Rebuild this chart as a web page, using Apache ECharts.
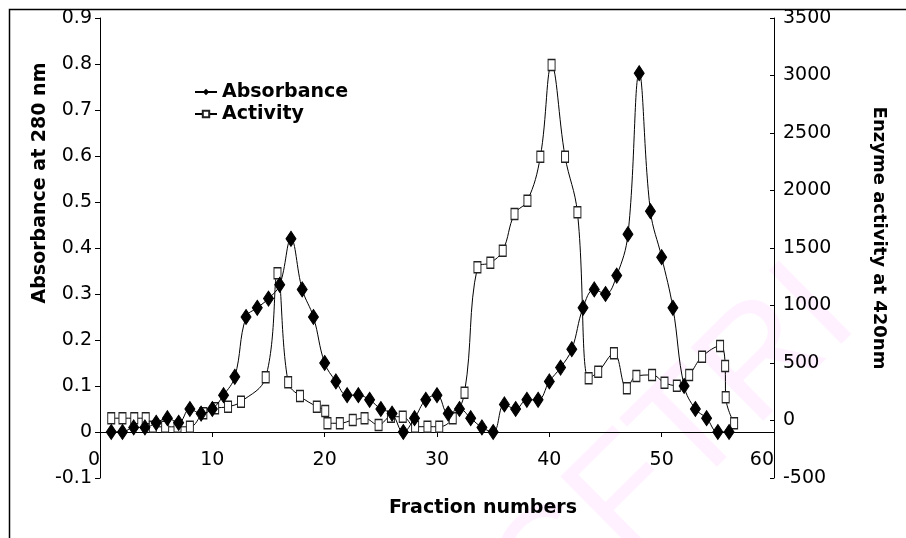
<!DOCTYPE html>
<html><head><meta charset="utf-8">
<script src="https://cdn.jsdelivr.net/npm/echarts@6/dist/echarts.min.js"></script>
<style>html,body{margin:0;padding:0;background:#fff}#c{width:906px;height:538px}</style>
</head><body><div id="c"></div>
<script>
// Absorbance at 280 nm (diamonds), one per fraction
const fractions = [1,2,3,4,5,6,7,8,9,10,11,12,13,14,15,16,17,18,19,20,21,22,23,24,25,26,27,28,29,30,31,32,33,34,35,36,37,38,39,40,41,42,43,44,45,46,47,48,49,50,51,52,53,54,55,56];
const absorbance = [0,0,0.01,0.01,0.02,0.03,0.02,0.05,0.04,0.05,0.08,0.12,0.25,0.27,0.29,0.32,0.42,0.31,0.25,0.15,0.11,0.08,0.08,0.07,0.05,0.04,0,0.03,0.07,0.08,0.04,0.05,0.03,0.01,0,0.06,0.05,0.07,0.07,0.11,0.14,0.18,0.27,0.31,0.30,0.34,0.43,0.78,0.48,0.38,0.27,0.10,0.05,0.03,0,0];
// Enzyme activity at 420 nm (squares)
const activityFraction = [1.0,2.0,3.05,4.07,4.7,5.8,6.9,8.0,9.2,10.25,11.4,12.55,14.75,15.8,16.75,17.8,19.3,20.05,20.25,21.35,22.5,23.55,24.8,25.9,26.95,28.05,29.15,30.2,31.4,32.45,33.6,34.75,35.85,36.9,38.05,39.2,40.2,41.4,42.5,43.5,44.35,45.75,46.9,47.75,49.15,50.25,51.35,52.45,53.6,55.2,55.65,55.7,56.45];
const activityValue = [20,20,20,20,-55,-55,-55,-55,63,106,120,163,376,1280,332,213,120,83,-24,-24,4,19,-39,33,33,-54,-54,-54,19,242,1332,1372,1477,1796,1911,2294,3091,2294,1810,367,424,584,280,387,396,329,303,396,555,648,474,202,-24];
// Axis settings
const xTicks = {min: 0, max: 60, interval: 10};
const leftTicks = {min: -0.1, max: 0.9, interval: 0.1};
const rightTicks = {min: -500, max: 3500, interval: 500};
const seriesNames = ['Absorbance', 'Activity'];

const FONT = 'DejaVu Sans';
const chart = echarts.init(document.getElementById('c'), null, {renderer: 'canvas'});
chart.setOption({
  animation: false,
  backgroundColor: '#fff',
  grid: {left: 100, right: 132, top: 18, bottom: 60, containLabel: false},
  legend: {
    data: seriesNames, orient: 'vertical', left: 194, top: 82, padding: 0,
    itemWidth: 22, itemHeight: 8, itemGap: 2,
    textStyle: {fontFamily: FONT, fontWeight: 'bold', fontSize: 19, color: '#000', lineHeight: 20}
  },
  xAxis: {
    type: 'value', min: xTicks.min, max: xTicks.max, interval: xTicks.interval,
    position: 'bottom', offset: -46,
    axisLine: {onZero: false, lineStyle: {color: '#000', width: 1}},
    axisTick: {show: true, length: 5, lineStyle: {color: '#000'}},
    axisLabel: {fontFamily: FONT, fontSize: 19, color: '#000', margin: 19, showMinLabel: true, showMaxLabel: true,
      alignMinLabel: 'right', alignMaxLabel: 'right'},
    splitLine: {show: false}
  },
  yAxis: [{
    type: 'value', position: 'left', min: leftTicks.min, max: leftTicks.max, interval: leftTicks.interval,
    axisLine: {show: true, onZero: false, lineStyle: {color: '#000', width: 1}},
    axisTick: {show: true, length: 5, lineStyle: {color: '#000'}},
    axisLabel: {fontFamily: FONT, fontSize: 19, color: '#000', margin: 8,
      formatter: v => String(Math.round(v * 10) / 10)},
    splitLine: {show: false}
  }, {
    type: 'value', position: 'right', min: rightTicks.min, max: rightTicks.max, interval: rightTicks.interval,
    axisLine: {show: true, onZero: false, lineStyle: {color: '#000', width: 1}},
    axisTick: {show: true, inside: true, length: 4, lineStyle: {color: '#000'}},
    axisLabel: {fontFamily: FONT, fontSize: 19, color: '#000', margin: 9, formatter: v => String(v)},
    splitLine: {show: false}
  }],
  graphic: [
    {type: 'rect', silent: true, z: -10, shape: {x: 9.5, y: 9.5, width: 1200, height: 1200},
      style: {fill: 'none', stroke: '#000', lineWidth: 1.5}},
    {type: 'text', silent: true, z: -5, x: 675, y: 450, rotation: 0.78,
      style: {text: 'CFTRI', fontFamily: 'Liberation Sans', fontSize: 150, fill: 'rgba(255,120,255,0.10)',
        align: 'center', verticalAlign: 'middle'}},
    {type: 'text', x: 40, y: 183, rotation: Math.PI / 2,
      style: {text: 'Absorbance at 280 nm', fontFamily: FONT, fontWeight: 'bold', fontSize: 19, fill: '#000',
        align: 'center', verticalAlign: 'middle'}},
    {type: 'text', x: 879, y: 238, rotation: -Math.PI / 2,
      style: {text: 'Enzyme activity at 420nm', fontFamily: FONT, fontWeight: 'bold', fontSize: 18, fill: '#000',
        align: 'center', verticalAlign: 'middle'}},
    {type: 'text', x: 483, y: 508,
      style: {text: 'Fraction numbers', fontFamily: FONT, fontWeight: 'bold', fontSize: 19, fill: '#000',
        align: 'center', verticalAlign: 'middle'}}
  ],
  series: [{
    name: 'Activity', type: 'line', yAxisIndex: 1, z: 2,
    data: activityFraction.map((f, i) => [f, activityValue[i]]),
    smooth: 0.4,
    symbol: 'rect', symbolSize: [7, 11],
    itemStyle: {color: '#fff', borderColor: '#222', borderWidth: 1.2},
    lineStyle: {color: '#000', width: 1}
  }, {
    name: 'Absorbance', type: 'line', yAxisIndex: 0, z: 3,
    data: fractions.map((f, i) => [f, absorbance[i]]),
    smooth: 0.4,
    symbol: 'diamond', symbolSize: [10, 15],
    itemStyle: {color: '#000', borderColor: '#000'},
    lineStyle: {color: '#000', width: 1}
  }]
});
</script></body></html>
